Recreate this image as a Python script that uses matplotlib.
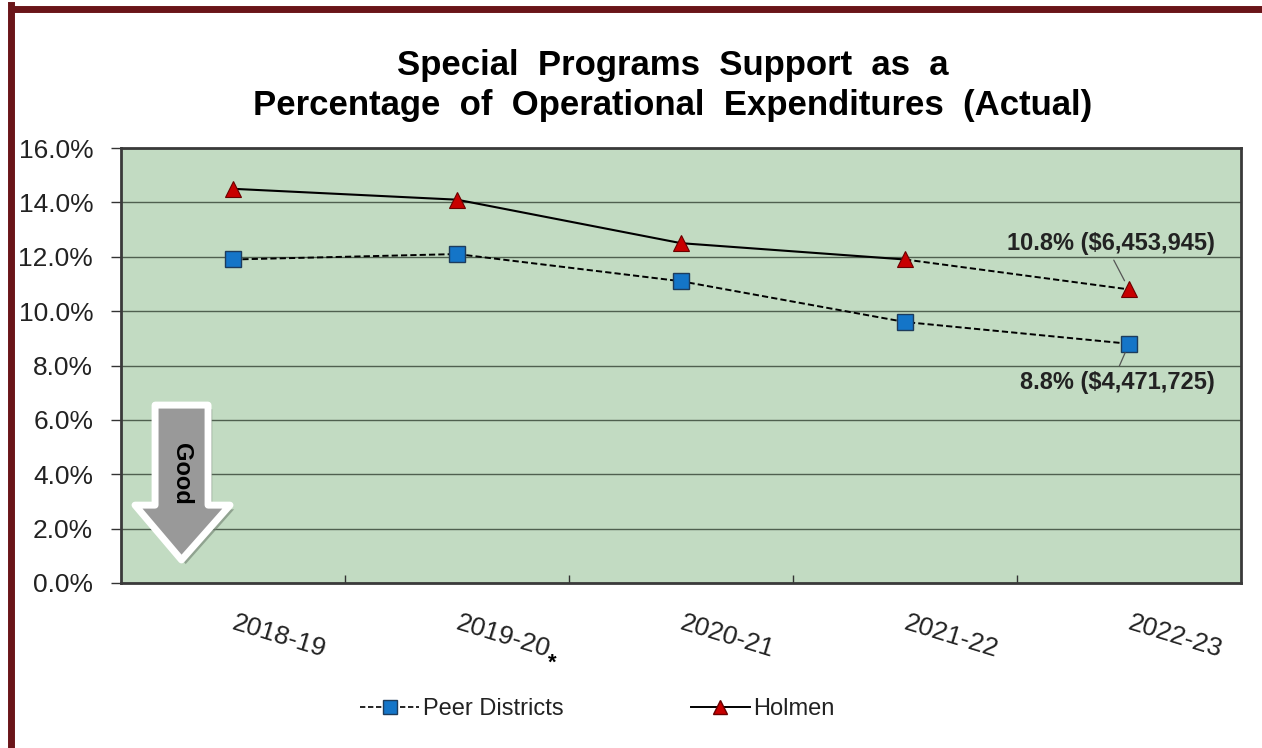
import matplotlib
matplotlib.use("Agg")
import matplotlib.pyplot as plt
import matplotlib.patheffects as pe
from matplotlib.lines import Line2D
from matplotlib.patches import Polygon

plt.rcParams['font.family'] = ['Liberation Sans', 'DejaVu Sans']

# data
years = ['2018-19', '2019-20', '2020-21', '2021-22', '2022-23']
peer = [11.9, 12.1, 11.1, 9.6, 8.8]
holmen = [14.5, 14.1, 12.5, 11.9, 10.8]
y_ticks = [0, 2, 4, 6, 8, 10, 12, 14, 16]
label_holmen = '10.8% ($6,453,945)'
label_peer = '8.8% ($4,471,725)'

DARK = '#222222'
fig = plt.figure(figsize=(12.62, 7.48), dpi=100)
ax = fig.add_axes([0.0959, 0.2206, 0.8875, 0.5815])
ax.set_facecolor('#c2dbc2')

x = list(range(len(years)))

# gridlines
ax.yaxis.grid(True, color='#4f604f', linewidth=1.0)
ax.set_axisbelow(True)

# peer districts, all dashed
ax.plot(x, peer, color='black', linestyle=(0, (3.2, 1.6)), linewidth=1.4,
        marker='s', markersize=11.5, markerfacecolor='#1475c8',
        markeredgecolor='#1d3c5c', markeredgewidth=1.0, zorder=3)

# holmen, solid then dashed for the last year
ax.plot(x[3:], holmen[3:], color='black', linestyle=(0, (3.2, 1.6)), linewidth=1.4, zorder=3)
ax.plot(x[:4], holmen[:4], color='black', linewidth=1.5, zorder=3)
ax.plot(x, holmen, linestyle='none', marker='^', markersize=12,
        markerfacecolor='#c80000', markeredgecolor='#6a0000', markeredgewidth=0.8, zorder=4)

ax.set_xlim(-0.5, len(years) - 0.5)
ax.set_ylim(0, 16)
ax.set_yticks(y_ticks)
ax.set_yticklabels([f'{v:.1f}%' for v in y_ticks], fontsize=19, color=DARK)
ax.tick_params(axis='y', direction='out', length=7, width=1, color='#333333', pad=13)

ax.set_xticks(x)
ax.set_xticklabels(years, fontsize=19, color=DARK, rotation=-17,
                   ha='left', va='center', rotation_mode='anchor')
ax.tick_params(axis='x', length=0, pad=28)
ax.set_xticks([i + 0.5 for i in x[:-1]], minor=True)
ax.tick_params(axis='x', which='minor', direction='in', length=6, width=1, color='#333333')

for s in ax.spines.values():
    s.set_color('#3a3a3a')
    s.set_linewidth(2)

# annotations for last year
ax.annotate(label_holmen, xy=(x[-1], holmen[-1]), xytext=(-18, 46),
            textcoords='offset pixels', ha='center', va='center',
            fontsize=17, fontweight='bold', color=DARK,
            arrowprops=dict(arrowstyle='-', color='#555555', lw=0.9,
                            relpos=(0.5, 0), shrinkA=2, shrinkB=7))
ax.annotate(label_peer, xy=(x[-1], peer[-1]), xytext=(-12, -39),
            textcoords='offset pixels', ha='center', va='center',
            fontsize=17, fontweight='bold', color=DARK,
            arrowprops=dict(arrowstyle='-', color='#555555', lw=0.9,
                            relpos=(0.5, 1), shrinkA=2, shrinkB=7))

# "Good" arrow
arrow_pts = [(0.0304, 0.409), (0.0777, 0.409), (0.0777, 0.179), (0.0973, 0.179),
             (0.0540, 0.053), (0.0125, 0.179), (0.0304, 0.179)]
arrow = Polygon(arrow_pts, closed=True, transform=ax.transAxes, facecolor='#999999',
                edgecolor='white', linewidth=5, joinstyle='round', zorder=5)
arrow.set_path_effects([pe.SimplePatchShadow(offset=(3, -3), shadow_rgbFace='#6f7f6f', alpha=0.6),
                        pe.Normal()])
ax.add_patch(arrow)
ax.text(0.054, 0.25, 'Good', transform=ax.transAxes, rotation=-90,
        ha='center', va='center', fontsize=17, fontweight='bold', color='black', zorder=6)

# title
fig.text(0.533, 0.913, 'Special  Programs  Support  as  a', ha='center', va='center',
         fontsize=25, fontweight='bold', color='black')
fig.text(0.533, 0.859, 'Percentage  of  Operational  Expenditures  (Actual)', ha='center',
         va='center', fontsize=25, fontweight='bold', color='black')

# asterisk on 2019-20
fig.text(0.438, 0.113, '*', ha='center', va='center', fontsize=16, fontweight='bold', color='black')

# legend
handles = [
    Line2D([], [], color='black', linestyle=(0, (3.2, 1.6)), linewidth=1.2, marker='s',
           markersize=10, markerfacecolor='#1475c8', markeredgecolor='#1d3c5c'),
    Line2D([], [], color='black', linewidth=1.4, marker='^', markersize=10,
           markerfacecolor='#c80000', markeredgecolor='#6a0000'),
]
fig.legend(handles, ['Peer Districts', 'Holmen'], loc='center', ncol=2,
           bbox_to_anchor=(0.4735, 0.052), frameon=False, fontsize=17,
           handlelength=2.5, handletextpad=0.15, columnspacing=5.4, labelcolor=DARK)

# dark red frame on the left and top
fig.add_artist(Line2D([0.0087, 0.0087], [0, 0.993], transform=fig.transFigure,
                      color='#6a1519', linewidth=5))
fig.add_artist(Line2D([0.0087, 1], [0.9885, 0.9885], transform=fig.transFigure,
                      color='#6a1519', linewidth=5, solid_capstyle='butt'))

fig.savefig('out.png', dpi=100)
